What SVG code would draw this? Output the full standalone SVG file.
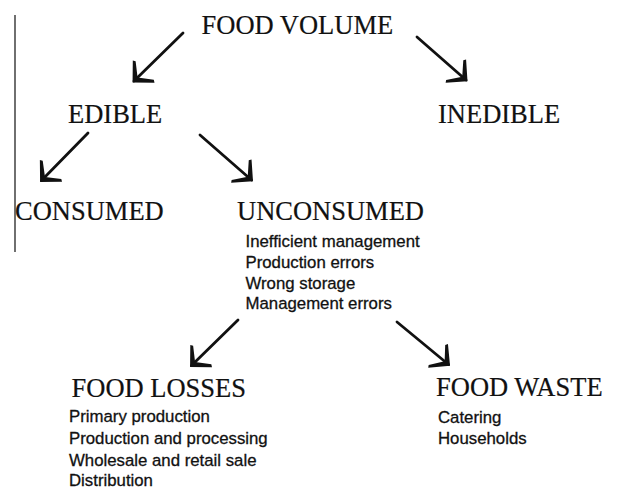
<svg xmlns="http://www.w3.org/2000/svg" width="617" height="489" viewBox="0 0 617 489">
<defs>
<style>
.h{font-family:"Liberation Serif","Times New Roman",serif;font-size:26.5px;fill:#111;stroke:#111;stroke-width:0.2}
.s{font-family:"Liberation Sans",Arial,sans-serif;font-size:16.8px;fill:#111;stroke:#111;stroke-width:0.3}
.c{stroke:#111;stroke-width:2.8;fill:none;stroke-linecap:round}
</style>
<marker id="ah" markerUnits="userSpaceOnUse" orient="auto" refX="0" refY="0" markerWidth="40" markerHeight="40" viewBox="-20 -20 40 40" overflow="visible">
<path d="M2,0 L-13.5,-15.5 L-15,-13 L-5,0 L-15,13 L-13.5,15.5 Z" fill="#111"/>
</marker>
</defs>
<rect width="617" height="489" fill="#fff"/>
<line x1="15" y1="15" x2="15" y2="252" stroke="#222" stroke-width="1.3"/>
<g id="connectors">
<line class="c" x1="183" y1="33" x2="134" y2="81" marker-end="url(#ah)"/>
<line class="c" x1="417" y1="37" x2="466" y2="80" marker-end="url(#ah)"/>
<line class="c" x1="88" y1="133" x2="41.5" y2="180.5" marker-end="url(#ah)"/>
<line class="c" x1="200" y1="135" x2="251.5" y2="180" marker-end="url(#ah)"/>
<line class="c" x1="238" y1="320" x2="191.5" y2="365.5" marker-end="url(#ah)"/>
<line class="c" x1="397" y1="322" x2="448.5" y2="364.5" marker-end="url(#ah)"/>
</g>
<g id="food-volume"><text class="h" x="201.5" y="34">FOOD VOLUME</text></g>
<g id="edible"><text class="h" x="68" y="123">EDIBLE</text></g>
<g id="inedible"><text class="h" x="438" y="123">INEDIBLE</text></g>
<g id="consumed"><text class="h" x="15" y="220">CONSUMED</text></g>
<g id="unconsumed">
<text class="h" x="237" y="220">UNCONSUMED</text>
<text class="s" x="245.5" y="246.5">Inefficient management</text>
<text class="s" x="245.5" y="267.5">Production errors</text>
<text class="s" x="245.5" y="288.5">Wrong storage</text>
<text class="s" x="245.5" y="309">Management errors</text>
</g>
<g id="food-losses">
<text class="h" x="71.5" y="397">FOOD LOSSES</text>
<text class="s" x="69" y="421.5">Primary production</text>
<text class="s" x="69" y="443.5">Production and processing</text>
<text class="s" x="69" y="465.5">Wholesale and retail sale</text>
<text class="s" x="69" y="486">Distribution</text>
</g>
<g id="food-waste">
<text class="h" x="436" y="396">FOOD WASTE</text>
<text class="s" x="438" y="422.5">Catering</text>
<text class="s" x="438" y="443.5">Households</text>
</g>
</svg>
